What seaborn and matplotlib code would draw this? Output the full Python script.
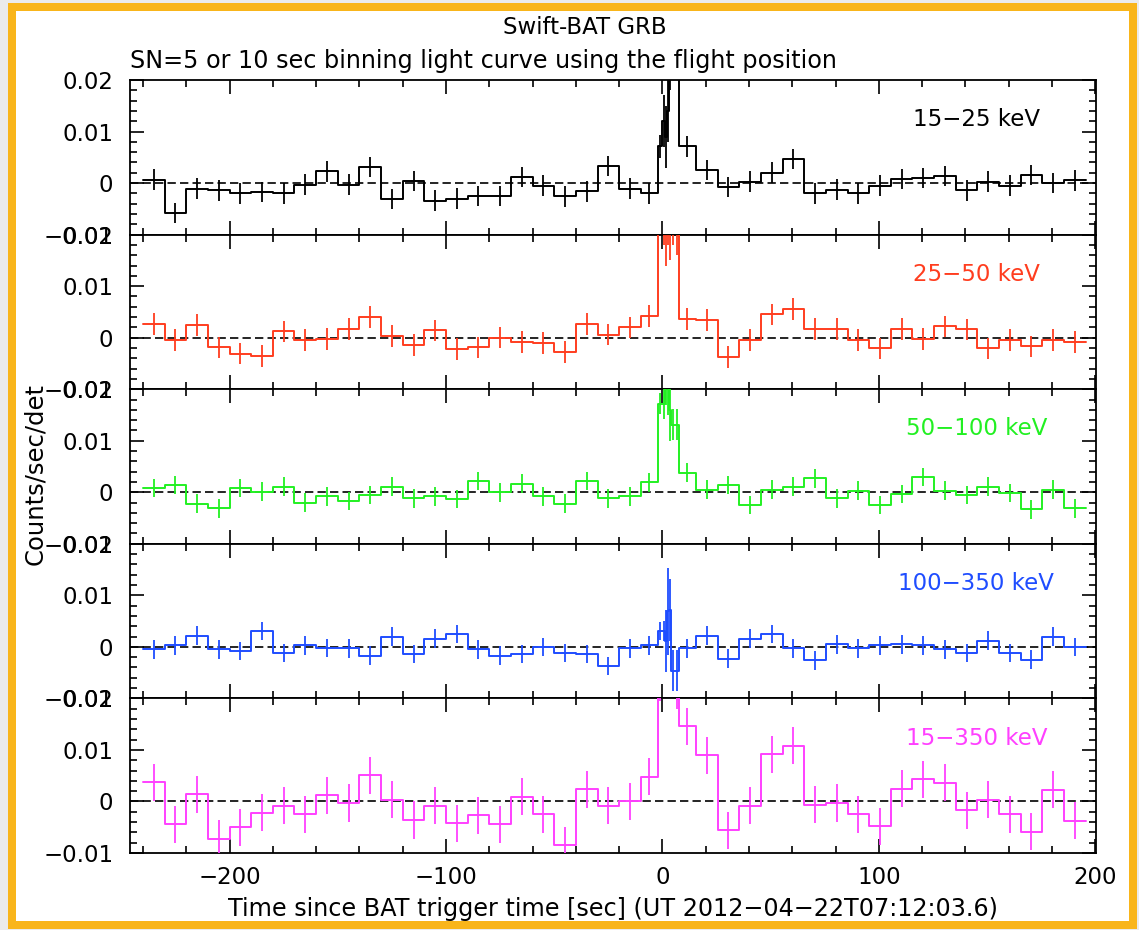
import numpy as np
import matplotlib
matplotlib.use("Agg")
import matplotlib.pyplot as plt
import seaborn as sns
from matplotlib.patches import Rectangle
from matplotlib.ticker import MultipleLocator, FuncFormatter

# ---------------- data ----------------
# bin edges in seconds since trigger
edges_pre = [-240, -230, -220, -210, -200, -190, -180, -170, -160, -150, -140, -130,
             -120, -110, -100, -90, -80, -70, -60, -50, -40, -30, -20, -10, -2]
edges_burst = [0, 1, 2, 3, 4, 5.5, 7.5]
edges_post = [15.5, 25.5, 35.5, 45.5, 55.5, 65.5, 75.5, 85.5, 95.5, 105.5, 115.5,
              125.5, 135.5, 145.5, 155.5, 165.5, 175.5, 185.5, 195.5]

bands = ["15\u221225 keV", "25\u221250 keV", "50\u2212100 keV", "100\u2212350 keV", "15\u2212350 keV"]

# rates (counts/sec/det): pre-burst bins, burst fine bins, post-burst bins
pre_15_25 = [0.00065, -0.0058, -0.0011, -0.0014, -0.0020, -0.0017, -0.0020, -0.0003, 0.0023, -0.0003,
             0.0031, -0.0031, 0.0004, -0.0034, -0.0030, -0.0025, -0.0025, 0.0012, -0.0005, -0.0026,
             -0.0016, 0.0033, -0.0011, -0.0020]
burst_15_25 = [0.0071, 0.012, 0.009, 0.014, 0.024, 0.026, 0.024]
post_15_25 = [0.0071, 0.0025, -0.0008, 0.0003, 0.0020, 0.0047, -0.0020, -0.0013, -0.0020, -0.0005,
              0.0008, 0.0010, 0.0014, -0.0014, 0.0003, -0.0005, 0.0016, 0.0, 0.0005]

pre_25_50 = [0.0027, -0.0005, 0.0025, -0.0019, -0.0031, -0.0036, 0.0012, -0.0005, -0.0003, 0.0017,
             0.0040, 0.0003, -0.0014, 0.0014, -0.0022, -0.0019, 0.0, -0.0008, -0.0010, -0.0028,
             0.0027, 0.0006, 0.0020, 0.0042]
burst_25_50 = [0.024, 0.027, 0.023, 0.026, 0.024, 0.027, 0.025]
post_25_50 = [0.0036, 0.0034, -0.0038, -0.0005, 0.0045, 0.0056, 0.0017, 0.0017, -0.0005, -0.0021,
              0.0017, -0.0003, 0.0022, 0.0016, -0.0021, -0.0004, -0.0017, -0.0004, -0.0008]

pre_50_100 = [0.0008, 0.0014, -0.0022, -0.0031, 0.0008, 0.0001, 0.0011, -0.0020, -0.0008, -0.0017,
              -0.0005, 0.0011, -0.0012, -0.0008, -0.0013, 0.0022, 0.0, 0.0017, -0.0008, -0.0022,
              0.0022, -0.0012, -0.0008, 0.0019]
burst_50_100 = [0.0172, 0.0172, 0.023, 0.021, 0.016, 0.0131, 0.0131]
post_50_100 = [0.0038, 0.0005, 0.0014, -0.0025, 0.0005, 0.0011, 0.0027, -0.0012, 0.0003, -0.0025,
               -0.0003, 0.0030, 0.0003, -0.0005, 0.0011, -0.0001, -0.0033, 0.0005, -0.0031]

pre_100_350 = [-0.0005, 0.0003, 0.0022, -0.0005, -0.0008, 0.0031, -0.0012, 0.0003, -0.0002, -0.0003,
               -0.0017, 0.0020, -0.0014, 0.0016, 0.0025, -0.0005, -0.0017, -0.0014, 0.0, -0.0012,
               -0.0014, -0.0037, -0.0003, 0.0003]
burst_100_350 = [0.0031, 0.0031, 0.0012, 0.0069, 0.0072, -0.0046, -0.0046]
post_100_350 = [-0.0003, 0.0022, -0.0023, 0.0016, 0.0025, -0.0003, -0.0026, 0.0005, -0.0003, 0.0003,
                0.0005, 0.0003, -0.0005, -0.0012, 0.0012, -0.0012, -0.0025, 0.0020, 0.0]

pre_15_350 = [0.0037, -0.0044, 0.0014, -0.0072, -0.0050, -0.0022, -0.0008, -0.0025, 0.0012, -0.0003,
              0.0051, 0.0003, -0.0036, -0.0008, -0.0042, -0.0027, -0.0044, 0.0009, -0.0025, -0.0085,
              0.0024, -0.0008, 0.0, 0.0048]
burst_15_350 = [0.024, 0.028, 0.030, 0.030, 0.028, 0.026, 0.024]
post_15_350 = [0.0146, 0.0090, -0.0056, -0.0008, 0.0092, 0.0108, -0.0006, -0.0003, -0.0025, -0.0048,
               0.0025, 0.0043, 0.0036, -0.0017, 0.0003, -0.0025, -0.0059, 0.0023, -0.0037]

# 1-sigma errors: typical error of the 10 s bins, and errors of the burst fine bins
err_coarse = [0.0020, 0.0021, 0.0018, 0.0018, 0.0036]
err_burst_15_25 = [0.0022, 0.005, 0.006, 0.006, 0.006, 0.005, 0.004]
err_burst_25_50 = [0.003, 0.009, 0.009, 0.008, 0.009, 0.009, 0.009]
err_burst_50_100 = [0.002, 0.003, 0.006, 0.006, 0.006, 0.003, 0.003]
err_burst_100_350 = [0.0018, 0.002, 0.006, 0.0085, 0.006, 0.004, 0.004]
err_burst_15_350 = [0.0045, 0.006, 0.006, 0.006, 0.006, 0.006, 0.006]

colors = ["#000000", "#ff3d1f", "#22f022", "#1f4dff", "#ff40ff"]

# ---------------- assemble ----------------
edges = np.array(edges_pre + edges_burst + edges_post, dtype=float)
centers = 0.5 * (edges[:-1] + edges[1:])
series = [
    (pre_15_25, burst_15_25, post_15_25, err_burst_15_25),
    (pre_25_50, burst_25_50, post_25_50, err_burst_25_50),
    (pre_50_100, burst_50_100, post_50_100, err_burst_50_100),
    (pre_100_350, burst_100_350, post_100_350, err_burst_100_350),
    (pre_15_350, burst_15_350, post_15_350, err_burst_15_350),
]

sns.set_style("ticks")
plt.rcParams["font.family"] = ["DejaVu Sans"]
plt.rcParams["text.color"] = "black"
plt.rcParams["axes.labelcolor"] = "black"
plt.rcParams["xtick.color"] = "black"
plt.rcParams["ytick.color"] = "black"
FS = 16.5

W, H = 1139, 930
fig = plt.figure(figsize=(W / 100, H / 100), dpi=100)
fig.patch.set_facecolor("#ebebeb")


def rect(x0, y0, x1, y1, color, z):
    fig.add_artist(Rectangle((x0 / W, 1 - y1 / H), (x1 - x0) / W, (y1 - y0) / H,
                             transform=fig.transFigure, facecolor=color,
                             edgecolor="none", zorder=z))


rect(8, 3, 1137, 929, "#f9b51a", -20)
rect(16, 11, 1129, 921, "white", -19)

gs = fig.add_gridspec(5, 1, left=130 / W, right=1096 / W, top=1 - 80 / H,
                      bottom=1 - 853 / H, hspace=0)


def yfmt(v, p):
    if abs(v) < 1e-12:
        return "0"
    return ("%g" % round(v, 6)).replace("-", "\u2212")


axes = []
for i, (pre, burst, post, eb) in enumerate(series):
    ax = fig.add_subplot(gs[i])
    axes.append(ax)
    vals = np.array(pre + burst + post, dtype=float)
    errs = np.array([err_coarse[i]] * len(pre) + eb + [err_coarse[i]] * len(post))
    c = colors[i]
    ax.axhline(0, color="black", lw=1.2, dashes=(5, 2.5), zorder=1)
    sns.lineplot(x=edges, y=np.append(vals, vals[-1]), drawstyle="steps-post",
                 estimator=None, sort=False, color=c, lw=1.4, ax=ax, legend=False,
                 zorder=3)
    ax.vlines(centers, vals - errs, vals + errs, color=c, lw=1.3, zorder=3)
    ax.set_xlim(-246, 200.3)
    ax.set_ylim(-0.01, 0.02)
    ax.xaxis.set_major_locator(MultipleLocator(100))
    ax.xaxis.set_minor_locator(MultipleLocator(20))
    ax.yaxis.set_major_locator(MultipleLocator(0.01))
    ax.yaxis.set_minor_locator(MultipleLocator(0.002))
    ax.yaxis.set_major_formatter(FuncFormatter(yfmt))
    ax.tick_params(which="both", direction="in", top=True, right=True, color="black",
                   width=1.2, labelsize=FS, labelcolor="black")
    ax.tick_params(which="major", length=10)
    ax.tick_params(which="minor", length=5)
    ax.tick_params(axis="y", pad=12)
    ax.tick_params(axis="x", pad=9)
    if i < 4:
        ax.tick_params(axis="x", labelbottom=False)
    for s in ax.spines.values():
        s.set_color("black")
        s.set_linewidth(1.3)
    ax.set_xlabel("")
    ax.set_ylabel("")
    ax.text(145, 0.0123, bands[i], color=c, fontsize=FS, ha="center", va="center")

axes[-1].set_xlabel("Time since BAT trigger time [sec] (UT 2012\u221204\u221222T07:12:03.6)",
                    fontsize=17.2, labelpad=6, color="black")

fig.text(585 / W, 1 - 28 / H, "Swift-BAT GRB", ha="center", va="center", fontsize=FS,
         color="black")
fig.text(130 / W, 1 - 61 / H, "SN=5 or 10 sec binning light curve using the flight position",
         ha="left", va="center", fontsize=17.2, color="black")
fig.text(35 / W, 1 - 474 / H, "Counts/sec/det", rotation=90, ha="center", va="center",
         fontsize=17.5, color="black")

fig.savefig("out.png", dpi=100, facecolor=fig.get_facecolor())
